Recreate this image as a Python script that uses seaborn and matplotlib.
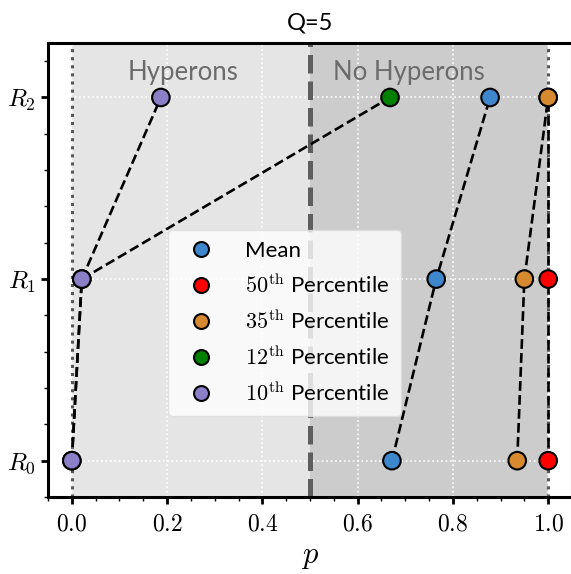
import matplotlib
matplotlib.use('Agg')
import matplotlib.pyplot as plt
import seaborn as sns
import pandas as pd
from matplotlib.ticker import MultipleLocator

# ---- data ----
levels = [0, 1, 2]
level_labels = [r'$R_0$', r'$R_1$', r'$R_2$']
series_names = ['Mean', r'$50^{\rm th}$ Percentile', r'$35^{\rm th}$ Percentile',
                r'$12^{\rm th}$ Percentile', r'$10^{\rm th}$ Percentile']
mean_vals = [0.672, 0.765, 0.878]
p50_vals = [1.0, 1.0, 1.0]
p35_vals = [0.935, 0.950, 1.0]
p12_vals = [0.0, 0.021, 0.668]
p10_vals = [0.0, 0.021, 0.187]
series_colors = ['#3f87cc', '#ff0000', '#d6892f', '#008000', '#8b7fc7']
x_ticks = [0.0, 0.2, 0.4, 0.6, 0.8, 1.0]
region_labels = ['Hyperons', 'No Hyperons']

all_vals = [mean_vals, p50_vals, p35_vals, p12_vals, p10_vals]
rows = []
for name, vals in zip(series_names, all_vals):
    for lv, v in zip(levels, vals):
        rows.append({'series': name, 'p': v, 'R': lv})
df = pd.DataFrame(rows)

plt.rcParams['mathtext.fontset'] = 'cm'
plt.rcParams['font.family'] = ['Lato', 'DejaVu Sans']

fig = plt.figure(figsize=(5.71, 5.74), dpi=100)
ax = fig.add_axes([48 / 571, 1 - 497 / 574, 524 / 571, 454 / 574])

ax.set_xlim(-0.05, 1.05)
ax.set_ylim(-0.2, 2.3)

# shaded regions
ax.axvspan(0.0, 0.5, color='#e5e5e5', zorder=0, lw=0)
ax.axvspan(0.5, 1.0, color='#cccccc', zorder=0, lw=0)

# grid
for xv in x_ticks:
    ax.axvline(xv, color='white', ls=':', lw=1.2, zorder=0.5)
for yv in levels:
    ax.axhline(yv, color='white', ls=':', lw=1.2, zorder=0.5)

ax.axvline(0.0, color='#555555', ls=':', lw=2.2, zorder=1)
ax.axvline(1.0, color='#555555', ls=':', lw=2.2, zorder=1)
ax.axvline(0.5, color='#5e5e5e', ls='--', lw=3.6, zorder=1)

# lines
sns.lineplot(data=df, x='p', y='R', units='series', estimator=None, sort=False,
             color='black', linestyle='--', lw=1.9, ax=ax, zorder=2, legend=False)

# markers
sns.scatterplot(data=df, x='p', y='R', hue='series', hue_order=series_names,
                palette=series_colors, s=160, edgecolor='black', linewidth=1.5,
                ax=ax, zorder=3)

ax.text(0.233, 2.14, region_labels[0], ha='center', va='center', fontsize=18.5, color='#6b6b6b')
ax.text(0.708, 2.14, region_labels[1], ha='center', va='center', fontsize=18.5, color='#6b6b6b')

ax.set_xticks(x_ticks)
ax.set_xticklabels([f'${v:.1f}$' for v in x_ticks])
ax.xaxis.set_minor_locator(MultipleLocator(0.05))
ax.set_yticks(levels)
ax.set_yticklabels(level_labels)
ax.yaxis.set_minor_locator(MultipleLocator(0.2))
ax.tick_params(axis='both', which='major', direction='out', length=5, width=2,
               labelsize=17, right=True)
ax.tick_params(axis='x', which='major', pad=7)
ax.tick_params(axis='both', which='minor', direction='out', length=3, width=1, right=True)
ax.tick_params(axis='y', labelsize=18)
for sp in ax.spines.values():
    sp.set_linewidth(2.2)
    sp.set_color('black')

ax.set_xlabel(r'$p$', fontsize=22, labelpad=6)
ax.set_ylabel('')
ax.set_title('Q=5', fontsize=17, pad=10)

leg = ax.legend(loc='center', bbox_to_anchor=(0.451, 0.384), fontsize=16,
                handletextpad=1.0, labelspacing=0.55, borderpad=0.5,
                framealpha=0.8, facecolor='white', edgecolor='#dddddd',
                markerscale=0.85)
leg.set_zorder(4)
for h in leg.legend_handles:
    try:
        h.set_markeredgecolor('black')
    except AttributeError:
        h.set_edgecolor('black')

fig.savefig('out.png', dpi=100)
